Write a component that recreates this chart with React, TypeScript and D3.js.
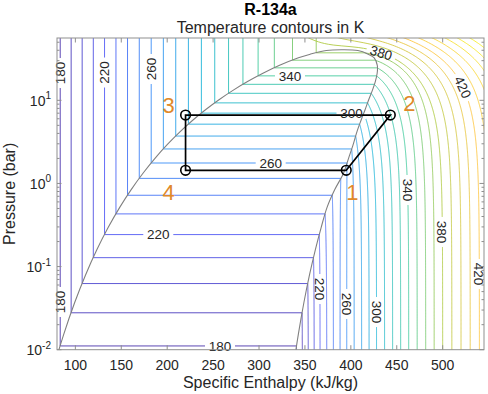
import React from 'react';
import * as d3 from 'd3';

// ---------------- data ----------------
// R-134a saturation table (T in K, p in bar, h in kJ/kg)
const satT = [169.85, 173.15, 183.15, 193.15, 203.15, 213.15, 223.15, 233.15, 243.15, 253.15, 263.15, 273.15, 283.15, 293.15, 303.15, 313.15, 323.15, 333.15, 343.15, 353.15, 363.15, 368.15, 373.15, 374.21];
const satP = [0.00391, 0.0056, 0.0152, 0.0367, 0.0798, 0.1591, 0.2945, 0.5121, 0.8438, 1.3273, 2.006, 2.928, 4.1461, 5.7171, 7.702, 10.166, 13.18, 16.818, 21.168, 26.332, 32.442, 35.915, 39.724, 40.593];
const satHl = [71.46, 75.36, 87.23, 99.16, 111.2, 123.36, 135.67, 148.14, 160.79, 173.64, 186.7, 200.0, 213.58, 227.47, 241.72, 256.41, 271.62, 287.5, 304.28, 322.39, 342.93, 355.8, 373.3, 389.6];
const satHv = [334.94, 336.85, 342.76, 348.83, 355.02, 361.31, 367.65, 374.0, 382.5, 392.0, 397.5, 402.5, 406.5, 411.0, 415.5, 419.43, 423.44, 426.63, 428.65, 428.81, 425.42, 418.9, 407.68, 389.6];
// low-pressure (ideal gas) vapour enthalpy vs temperature
const igT = [170, 180, 220, 260, 300, 340, 380, 420, 460, 500];
const igH = [334.5, 341, 366.5, 395.5, 428, 463, 500, 540, 582, 626];
// contour levels (K)
const levels = [180, 190, 200, 210, 220, 230, 240, 250, 260, 270, 280, 290, 300, 310, 320, 330, 340, 350, 360, 370, 380, 390, 400, 410, 420, 430, 440, 450, 460, 470];
// axes
const xTicks = [100, 150, 200, 250, 300, 350, 400, 450, 500];
const yTickExp = [-2, -1, 0, 1];
const hDomain = [80, 545];
const pDomain = [0.01, 56.2];
// refrigeration cycle
const cycleH = [395, 443, 220, 220];
const cycleP = [1.44, 6.65, 6.65, 1.44];
const cycleNames = ['1', '2', '3', '4'];
// critical point
const critT = 374.21, critP = 40.593, critH = 389.6;
// contour labels
const contourLabels = [
  { T: 180, kind: 'liq', p: 21.3 },
  { T: 180, kind: 'liq', p: 0.0375 },
  { T: 220, kind: 'liq', p: 21.6 },
  { T: 260, kind: 'liq', p: 23.8 },
  { T: 340, kind: 'dome', h: 333.7 },
  { T: 300, kind: 'dome', h: 400.7 },
  { T: 260, kind: 'dome', h: 312.7 },
  { T: 220, kind: 'dome', h: 190.3 },
  { T: 180, kind: 'dome', h: 257.5 },
  { T: 220, kind: 'vap', p: 0.0537 },
  { T: 260, kind: 'vap', p: 0.0355 },
  { T: 300, kind: 'vap', p: 0.0284 },
  { T: 340, kind: 'vap', p: 0.834 },
  { T: 380, kind: 'vap', p: 0.261 },
  { T: 420, kind: 'vap', p: 0.0815 },
  { T: 380, kind: 'vapH', h: 433 },
  { T: 420, kind: 'vapH', h: 522 },
];
const parula = ['#3e26a8', '#4852f4', '#2e87f7', '#12b1d6', '#37c897', '#abc739', '#fec338', '#f5e824', '#f9fb15'];

// ---------------- model helpers ----------------
function satInterp(T: number, arr: number[], log = false) {
  const n = satT.length;
  let i = d3.bisectRight(satT, T) - 1;
  i = Math.max(0, Math.min(n - 2, i));
  const f = (T - satT[i]) / (satT[i + 1] - satT[i]);
  if (log) return Math.exp(Math.log(arr[i]) * (1 - f) + Math.log(arr[i + 1]) * f);
  return arr[i] * (1 - f) + arr[i + 1] * f;
}
const psat = (T: number) => satInterp(T, satP, true);
const hlSat = (T: number) => satInterp(T, satHl);
const hvSat = (T: number) => satInterp(T, satHv);
const hIg = d3.scaleLinear().domain(igT).range(igH);

// Peng-Robinson departure (shape of the vapour / supercritical isotherms)
const Rg = 8.314462 / 102.032;
const PcKPa = critP * 100;
const omega = 0.32684;
const kappa = 0.37464 + 1.54226 * omega - 0.26992 * omega * omega;
const ac = (0.45724 * (Rg * critT) ** 2) / PcKPa;
const bb = (0.0778 * Rg * critT) / PcKPa;

function cubicRoots(a2: number, a1: number, a0: number) {
  const q = (3 * a1 - a2 * a2) / 9;
  const r = (9 * a2 * a1 - 27 * a0 - 2 * a2 * a2 * a2) / 54;
  const disc = q * q * q + r * r;
  const sh = -a2 / 3;
  if (disc >= 0) {
    const sd = Math.sqrt(disc);
    return [Math.cbrt(r + sd) + Math.cbrt(r - sd) + sh];
  }
  const th = Math.acos(Math.max(-1, Math.min(1, r / Math.sqrt(-q * q * q))));
  const m = 2 * Math.sqrt(-q);
  return [0, 1, 2].map((k) => m * Math.cos((th + 2 * Math.PI * k) / 3) + sh);
}

function prDep(T: number, pBar: number) {
  const P = pBar * 100;
  const sq = Math.sqrt(T / critT);
  const alpha = (1 + kappa * (1 - sq)) ** 2;
  const a = ac * alpha;
  const dadT = (-ac * kappa * Math.sqrt(alpha)) / Math.sqrt(T * critT);
  const RT = Rg * T;
  const A = (a * P) / (RT * RT);
  const B = (bb * P) / RT;
  const roots = cubicRoots(-(1 - B), A - 3 * B * B - 2 * B, -(A * B - B * B - B * B * B)).filter((z) => z > B);
  const Z = Math.max(...roots);
  const s2 = Math.SQRT2;
  return RT * (Z - 1) + ((T * dadT - a) / (2 * s2 * bb)) * Math.log((Z + (1 + s2) * B) / (Z + (1 - s2) * B));
}

const corrC = critH - hIg(critT) - prDep(critT + 0.001, critP);

type Pt = [number, number];
function isotherm(T: number): { pts: Pt[]; vStart: number } {
  const pts: Pt[] = [];
  const N = 400;
  const pLo = pDomain[0] * 0.8;
  const pHi = pDomain[1] * 1.05;
  if (T < critT) {
    const ps = psat(T);
    const hl = hlSat(T);
    const hv = hvSat(T);
    pts.push([hl, pHi], [hl, ps]);
    const vStart = pts.length;
    const c0 = hv - hIg(T) - prDep(T, ps);
    for (let i = 0; i <= N; i++) {
      const p = ps * Math.pow(pLo / ps, i / N);
      pts.push([hIg(T) + prDep(T, p) + (c0 * p) / ps, p]);
    }
    pts[vStart][0] = hv;
    return { pts, vStart };
  }
  for (let i = 0; i <= N; i++) {
    const p = pHi * Math.pow(pLo / pHi, i / N);
    pts.push([hIg(T) + prDep(T, p) + (corrC * p) / critP, p]);
  }
  return { pts, vStart: 0 };
}

export default function App() {
  const PL = 57, PR = 484, PT = 38, PB = 349.7;
  const x = d3.scaleLinear().domain(hDomain).range([PL, PR]);
  const y = d3.scaleLog().domain(pDomain).range([PB, PT]);
  const color = d3
    .scaleLinear<string>()
    .domain(parula.map((_, i) => 180 + i * 40))
    .range(parula)
    .interpolate(d3.interpolateRgb);
  const line = d3
    .line<Pt>()
    .x((d) => x(d[0]))
    .y((d) => y(d[1]));

  const isos = new Map<number, { pts: Pt[]; vStart: number }>();
  levels.forEach((T) => isos.set(T, isotherm(T)));

  // dome
  const domePts: Pt[] = [];
  satT.forEach((_, i) => domePts.push([satHl[i], satP[i]]));
  for (let i = satT.length - 2; i >= 0; i--) domePts.push([satHv[i], satP[i]]);
  const domeLine = d3
    .line<Pt>()
    .x((d) => x(d[0]))
    .y((d) => y(d[1]))
    .curve(d3.curveCatmullRom);

  // labels
  const fs = 13.5;
  const labels = contourLabels.map((L: any, idx) => {
    let h = 0, p = 0, ang = 0;
    if (L.kind === 'liq') {
      h = hlSat(L.T); p = L.p; ang = -90;
    } else if (L.kind === 'dome') {
      h = L.h; p = psat(L.T); ang = 0;
    } else {
      const { pts, vStart } = isos.get(L.T)!;
      for (let i = vStart; i < pts.length - 1; i++) {
        const a = pts[i], b = pts[i + 1];
        let f = -1;
        if (L.kind === 'vap' && (a[1] - L.p) * (b[1] - L.p) <= 0) f = (Math.log(L.p) - Math.log(a[1])) / (Math.log(b[1]) - Math.log(a[1]));
        if (L.kind === 'vapH' && (a[0] - L.h) * (b[0] - L.h) <= 0) f = (L.h - a[0]) / (b[0] - a[0]);
        if (f >= 0 && f <= 1) {
          h = a[0] + (b[0] - a[0]) * f;
          p = Math.exp(Math.log(a[1]) + (Math.log(b[1]) - Math.log(a[1])) * f);
          const j0 = Math.max(vStart, i - 6), j1 = Math.min(pts.length - 1, i + 7);
          const dx = x(pts[j1][0]) - x(pts[j0][0]);
          const dy = y(pts[j1][1]) - y(pts[j0][1]);
          ang = (Math.atan2(dy, dx) * 180) / Math.PI;
          if (ang > 90) ang -= 180;
          if (ang <= -90) ang += 180;
          if (Math.abs(ang) > 84) ang = 90;
          break;
        }
      }
    }
    return { key: idx, T: L.T, cx: x(h), cy: y(p), ang, text: String(L.T) };
  });

  const font = "'Liberation Sans', Arial, Helvetica, sans-serif";
  const axisCol = '#8f8f8f';
  const textCol = '#262626';

  const minorY: number[] = [];
  for (let k = -2; k <= 1; k++) for (let m = 2; m <= 9; m++) {
    const v = m * Math.pow(10, k);
    if (v < pDomain[1]) minorY.push(v);
  }

  const cyc: Pt[] = cycleH.map((h, i) => [h, cycleP[i]]);
  const nameOff: Pt[] = [[6, 22], [19, -12], [-17, -10], [-17, 22]];

  return (
    <svg width={488} height={394} style={{ position: 'absolute', left: 0, top: 0, background: '#fff' }} fontFamily={font}>
      <defs>
        <clipPath id="plotClip">
          <rect x={PL} y={PT} width={PR - PL} height={PB - PT} />
        </clipPath>
        {levels.map((T) => {
          const ls = labels.filter((l) => l.T === T);
          if (!ls.length) return null;
          return (
            <mask id={`m${T}`} key={T} maskUnits="userSpaceOnUse" x={0} y={0} width={488} height={394}>
              <rect x={0} y={0} width={488} height={394} fill="#fff" />
              {ls.map((l) => (
                <rect key={l.key} x={-15} y={-6} width={30} height={12} fill="#000" transform={`translate(${l.cx},${l.cy}) rotate(${l.ang})`} />
              ))}
            </mask>
          );
        })}
      </defs>

      <g clipPath="url(#plotClip)">
        {levels.map((T) => (
          <path
            key={T}
            d={line(isos.get(T)!.pts) || ''}
            fill="none"
            stroke={color(T)}
            strokeWidth={0.85}
            mask={labels.some((l) => l.T === T) ? `url(#m${T})` : undefined}
          />
        ))}
        <path d={domeLine(domePts) || ''} fill="none" stroke="#808080" strokeWidth={1.1} />
        <path d={(line(cyc) || '') + 'Z'} fill="none" stroke="#000" strokeWidth={1.7} />
        {cyc.map((d, i) => (
          <circle key={i} cx={x(d[0])} cy={y(d[1])} r={4.8} fill="none" stroke="#000" strokeWidth={1.6} />
        ))}
      </g>

      {labels.map((l) => (
        <text key={l.key} transform={`translate(${l.cx},${l.cy}) rotate(${l.ang})`} textAnchor="middle" dy="0.36em" fontSize={fs} fill={textCol}>
          {l.text}
        </text>
      ))}

      {cyc.map((d, i) => (
        <text key={i} x={x(d[0]) + nameOff[i][0]} y={y(d[1]) + nameOff[i][1] + 8} textAnchor="middle" fontSize={22} fill="#e0892a">
          {cycleNames[i]}
        </text>
      ))}

      {/* axes box and ticks */}
      <rect x={PL} y={PT} width={PR - PL} height={PB - PT} fill="none" stroke={axisCol} strokeWidth={1} />
      {xTicks.map((t) => (
        <g key={t}>
          <line x1={x(t)} x2={x(t)} y1={PB} y2={PB - 4.5} stroke={axisCol} />
          <line x1={x(t)} x2={x(t)} y1={PT} y2={PT + 4.5} stroke={axisCol} />
          <text x={x(t)} y={369.5} textAnchor="middle" fontSize={14} fill={textCol}>{t}</text>
        </g>
      ))}
      {yTickExp.map((k) => {
        const yy = y(Math.pow(10, k));
        return (
          <g key={k}>
            <line x1={PL} x2={PL + 4.5} y1={yy} y2={yy} stroke={axisCol} />
            <line x1={PR} x2={PR - 4.5} y1={yy} y2={yy} stroke={axisCol} />
            <text x={51} y={yy + 5.5} textAnchor="end" fontSize={14} fill={textCol}>
              10<tspan dy={-6.5} fontSize={10}>{k}</tspan>
            </text>
          </g>
        );
      })}
      {minorY.map((v) => (
        <g key={v}>
          <line x1={PL} x2={PL + 2.5} y1={y(v)} y2={y(v)} stroke={axisCol} />
          <line x1={PR} x2={PR - 2.5} y1={y(v)} y2={y(v)} stroke={axisCol} />
        </g>
      ))}

      <text x={(PL + PR) / 2} y={388} textAnchor="middle" fontSize={16} fill={textCol}>Specific Enthalpy (kJ/kg)</text>
      <text transform={`translate(15,${(PT + PB) / 2}) rotate(-90)`} textAnchor="middle" fontSize={16} fill={textCol}>Pressure (bar)</text>
      <text x={(PL + PR) / 2} y={15} textAnchor="middle" fontSize={16} fontWeight="bold" fill="#000">R-134a</text>
      <text x={(PL + PR) / 2} y={33} textAnchor="middle" fontSize={16} fill={textCol}>Temperature contours in K</text>
    </svg>
  );
}
